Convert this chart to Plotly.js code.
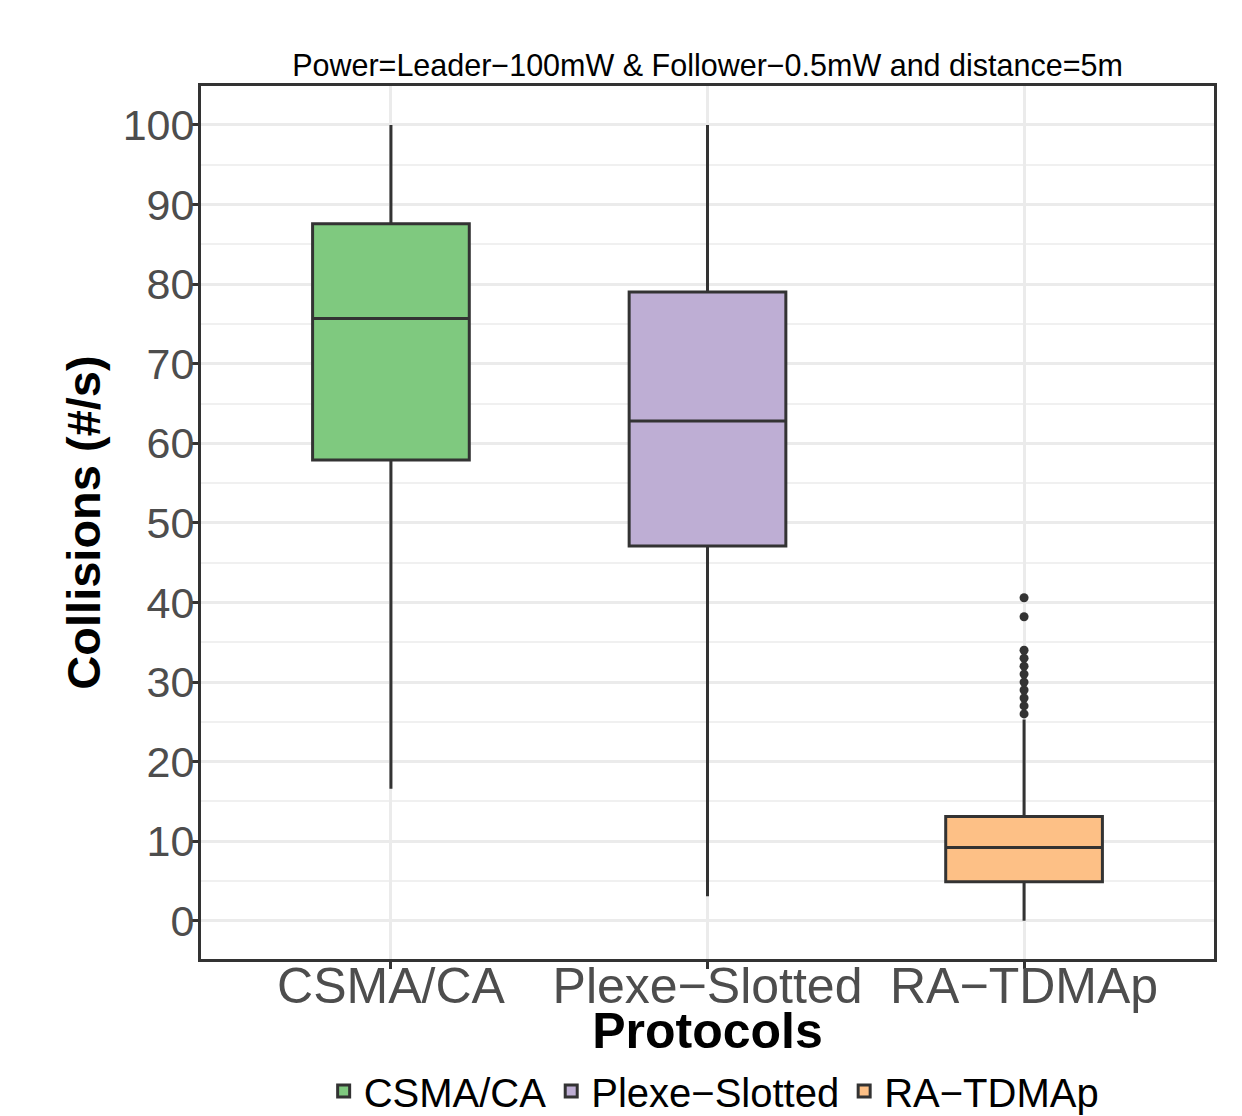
<!DOCTYPE html>
<html>
<head>
<meta charset="utf-8">
<script src="https://cdn.plot.ly/plotly-3.0.1.min.js"></script>
<style>html,body{margin:0;padding:0;background:#fff;}#chart{width:1242px;height:1116px;}</style>
</head>
<body>
<div id="chart"></div>
<script>
const protocols = ["CSMA/CA", "Plexe\u2212Slotted", "RA\u2212TDMAp"];
const colors = ["#7fc97f", "#beaed4", "#fdc086"];
const lowerWhisker = [16.6, 3.1, 0];
const q1Values = [57.9, 47.1, 4.9];
const medianValues = [75.7, 62.8, 9.2];
const q3Values = [87.6, 79.0, 13.1];
const upperWhisker = [100, 100, 25.3];
const outlierValues = [26, 27, 28, 29, 30, 31, 32, 33, 34, 38.2, 40.6];
const outlierGroup = "RA\u2212TDMAp";
const yTicks = [0, 10, 20, 30, 40, 50, 60, 70, 80, 90, 100];

const traces = protocols.map((p, i) => ({
  type: "box",
  name: p,
  x: [p],
  q1: [q1Values[i]],
  median: [medianValues[i]],
  q3: [q3Values[i]],
  lowerfence: [lowerWhisker[i]],
  upperfence: [upperWhisker[i]],
  fillcolor: colors[i],
  line: {color: "#333333", width: 3},
  whiskerwidth: 0,
  showlegend: true,
  hoverinfo: "skip"
}));
traces.push({
  type: "scatter",
  mode: "markers",
  x: outlierValues.map(() => outlierGroup),
  y: outlierValues,
  marker: {color: "#333333", size: 9},
  showlegend: false,
  hoverinfo: "skip"
});

const layout = {
  width: 1242, height: 1116,
  margin: {l: 201, r: 28, t: 86, b: 157},
  paper_bgcolor: "#ffffff",
  plot_bgcolor: "#ffffff",
  font: {family: "Liberation Sans, Arial, sans-serif", color: "#000"},
  title: {
    text: "Power=Leader\u2212100mW & Follower\u22120.5mW and distance=5m",
    font: {size: 30.5, color: "#000"},
    x: 0.5, xanchor: "center", xref: "paper",
    y: 1 - 65/1116, yanchor: "middle", yref: "container"
  },
  boxgap: 0.505,
  boxgroupgap: 0,
  xaxis: {
    type: "category",
    categoryorder: "array", categoryarray: protocols,
    range: [-0.6, 2.6],
    showline: true, mirror: true, linecolor: "#333333", linewidth: 3,
    showgrid: true, gridcolor: "#ebebeb", gridwidth: 3,
    ticks: "outside", ticklen: 7, tickwidth: 3, tickcolor: "#333333",
    tickfont: {size: 50, color: "#4d4d4d"},
    ticklabelstandoff: -26,
    title: {text: "<b>Protocols</b>", font: {size: 50, color: "#000"}, standoff: 5},
    zeroline: false, fixedrange: true
  },
  yaxis: {
    range: [-4.8, 104.9],
    tickvals: yTicks,
    ticktext: yTicks.map(String),
    showline: true, mirror: true, linecolor: "#333333", linewidth: 3,
    showgrid: true, gridcolor: "#ebebeb", gridwidth: 3,
    minor: {dtick: 5, tick0: 0, showgrid: true, gridcolor: "#f0f0f0", gridwidth: 2, ticks: ""},
    ticks: "outside", ticklen: 7, tickwidth: 3, tickcolor: "#333333",
    tickfont: {size: 43, color: "#4d4d4d"},
    ticklabelstandoff: -12,
    title: {text: "<b>Collisions (#/s)</b>", font: {size: 47, color: "#000"}, standoff: 8},
    zeroline: false, fixedrange: true
  },
  legend: {
    orientation: "h",
    x: 0.575, xanchor: "center", xref: "container",
    y: 25/1116, yanchor: "middle", yref: "container",
    font: {size: 40, color: "#000"},
    itemclick: false, itemdoubleclick: false,
    bgcolor: "rgba(0,0,0,0)"
  },
  showlegend: true
};

Plotly.newPlot("chart", traces, layout, {staticPlot: true, displayModeBar: false});
</script>
</body>
</html>
